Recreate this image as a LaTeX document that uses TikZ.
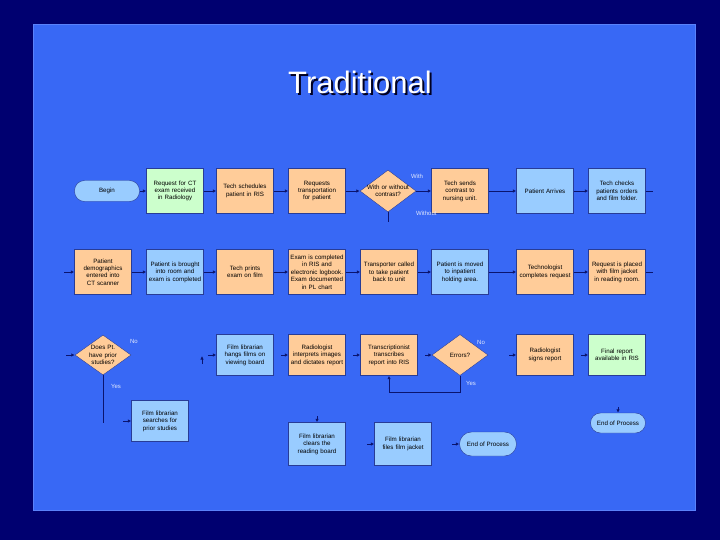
\documentclass[tikz,border=0pt]{standalone}
\usepackage{fontspec}
\setmainfont{Liberation Sans}
\usetikzlibrary{shapes.geometric,arrows.meta}
\definecolor{navybg}{RGB}{0,0,112}
\definecolor{panel}{RGB}{56,104,245}
\definecolor{paneledge}{RGB}{90,130,250}
\definecolor{orbox}{RGB}{255,204,153}
\definecolor{blbox}{RGB}{153,204,255}
\definecolor{grbox}{RGB}{204,255,204}
\definecolor{lineclr}{RGB}{10,20,110}
\definecolor{boxline}{RGB}{40,60,150}
\newcommand{\boxfont}{\fontsize{6.2}{7.4}\selectfont\hyphenpenalty=10000\exhyphenpenalty=10000}
\tikzset{
  basebox/.style={draw=boxline, line width=0.4pt, minimum width=57pt, minimum height=45pt,
    text width=54pt, align=center, inner sep=1pt, font=\boxfont, text=black},
  obox/.style={basebox, fill=orbox},
  bbox/.style={basebox, fill=blbox},
  gbox/.style={basebox, fill=grbox},
  sbox/.style={minimum height=41pt},
  decide/.style={diamond, draw=boxline, line width=0.4pt, fill=orbox, minimum width=56pt,
    minimum height=42pt, inner sep=-5pt, aspect=1.3, text width=46pt, align=center,
    font=\boxfont},
  term/.style={draw=boxline, line width=0.4pt, fill=blbox, rounded corners=10pt,
    minimum height=21pt, inner sep=1pt, align=center, font=\boxfont},
  conn/.style={draw=lineclr, line width=0.8pt, -{Latex[length=3.5pt,width=3.5pt]}},
  plain/.style={draw=lineclr, line width=0.8pt},
  lbl/.style={font=\fontsize{6}{7}\selectfont, text=white!85!panel, inner sep=0pt}
}
\begin{document}
\begin{tikzpicture}[x=1pt,y=-1pt]
\fill[navybg] (0,0) rectangle (720,540);
\fill[panel] (33,25) rectangle (695,510);
\draw[paneledge, line width=1pt] (33,25) rectangle (695,510);

% title
\node[font=\fontsize{31}{36}\selectfont, text=black!70!navybg] at (362,84) {Traditional};
\node (title) [font=\fontsize{31}{36}\selectfont, text=white] at (360,82) {Traditional};

% row 1
\node (begin) [term, minimum width=65pt] at (107,191) {Begin};
\node (req) [gbox] at (175,191) {Request for CT exam received in Radiology};
\node (sched) [obox] at (245,191) {Tech schedules patient in RIS};
\node (transp) [obox] at (317,191) {Requests transportation for patient};
\node (contrast) [decide] at (388,191) {With or without contrast?};
\node (sends) [obox] at (460,191) {Tech sends contrast to nursing unit.};
\node (arrives) [bbox] at (545,191) {Patient Arrives};
\node (checks) [bbox] at (617,191) {Tech checks patients orders and film folder.};
\node (with) [lbl] at (417,176) {With};
\node (without) [lbl, anchor=west] at (416,213) {Without};
\coordinate (r1out) at (653,191);
\coordinate (wostub) at (388,222);

\draw[conn] (begin) -- (req);
\draw[conn] (req) -- (sched);
\draw[conn] (sched) -- (transp);
\draw[conn] (transp) -- (contrast);
\draw[conn] (contrast) -- (sends);
\draw[conn] (sends) -- (arrives);
\draw[conn] (arrives) -- (checks);
\draw[plain] (checks) -- (r1out);
\draw[plain] (contrast.south) -- (wostub);

% row 2
\coordinate (r2in) at (64,272);
\node (demo) [obox] at (103,272) {Patient demographics entered into CT scanner};
\node (brought) [bbox] at (175,272) {Patient is brought into room and exam is completed};
\node (prints) [obox] at (245,272) {Tech prints exam on film};
\node (ris) [obox] at (317,272) {Exam is completed in RIS and electronic logbook. Exam documented in PL chart};
\node (transporter) [obox] at (389,272) {Transporter called to take patient back to unit};
\node (moved) [bbox] at (460,272) {Patient is moved to inpatient holding area.};
\node (techreq) [obox] at (545,272) {Technologist completes request};
\node (placed) [obox] at (617,272) {Request is placed with film jacket in reading room.};
\coordinate (r2out) at (653,272);

\draw[conn] (r2in) -- (demo);
\draw[conn] (demo) -- (brought);
\draw[conn] (brought) -- (prints);
\draw[conn] (prints) -- (ris);
\draw[conn] (ris) -- (transporter);
\draw[conn] (transporter) -- (moved);
\draw[conn] (moved) -- (techreq);
\draw[conn] (techreq) -- (placed);
\draw[plain] (placed) -- (r2out);

% row 3
\coordinate (r3in) at (66,355);
\node (prior) [decide, minimum width=56pt, minimum height=40pt, text width=34pt, inner sep=-2pt] at (103,355) {Does Pt. have prior studies?};
\node (hangs) [bbox, sbox] at (245,355) {Film librarian hangs films on viewing board};
\node (interp) [obox, sbox] at (317,355) {Radiologist interprets images and dictates report};
\node (transc) [obox, sbox] at (389,355) {Transcriptionist transcribes report into RIS};
\node (errors) [decide, minimum width=56pt, minimum height=41pt] at (460,355) {Errors?};
\node (signs) [obox, sbox] at (545,355) {Radiologist signs report};
\node (final) [gbox, sbox] at (617,355) {Final report available in RIS};
\node (no1) [lbl] at (134,341) {No};
\node (yes1) [lbl] at (116,386) {Yes};
\node (no2) [lbl] at (481,342) {No};
\node (yes2) [lbl] at (471,383) {Yes};
\coordinate (hangin) at (208,355);
\coordinate (upa) at (202,364);
\coordinate (upb) at (202,356);
\coordinate (interpin) at (281,355);
\coordinate (transcin) at (353,355);
\coordinate (errin) at (425,355);
\coordinate (signin) at (509,355);
\coordinate (finalin) at (581,355);
\coordinate (yesturn) at (460,392);

\draw[conn] (r3in) -- (prior);
\draw[conn] (hangin) -- (hangs);
\draw[conn] (upa) -- (upb);
\draw[conn] (interpin) -- (interp);
\draw[conn] (transcin) -- (transc);
\draw[conn] (errin) -- (errors);
\draw[conn] (signin) -- (signs);
\draw[conn] (finalin) -- (final);
\draw[conn] (errors.south) -- (yesturn) -| (transc.south);

% row 4
\node (search) [bbox, sbox] at (160,421) {Film librarian searches for prior studies};
\node (clears) [bbox, minimum height=43pt] at (317,444) {Film librarian clears the reading board};
\node (files) [bbox, minimum height=43pt] at (403,444) {Film librarian files film jacket};
\node (endp) [term, minimum width=57pt, minimum height=24pt, rounded corners=12pt] at (488,444) {End of Process};
\node (endr) [term, minimum width=55pt, minimum height=20pt] at (618,423) {End of Process};
\coordinate (yesdown) at (103,423);
\coordinate (searchin) at (123,421);
\coordinate (clearsin) at (317,416);
\coordinate (filesin) at (367,444);
\coordinate (endpin) at (452,444);
\coordinate (endrin) at (618,407);

\draw[plain] (prior.south) -- (yesdown);
\draw[conn] (searchin) -- (search);
\draw[conn] (clearsin) -- (clears);
\draw[conn] (filesin) -- (files);
\draw[conn] (endpin) -- (endp);
\draw[conn] (endrin) -- (endr);
\end{tikzpicture}
\end{document}
